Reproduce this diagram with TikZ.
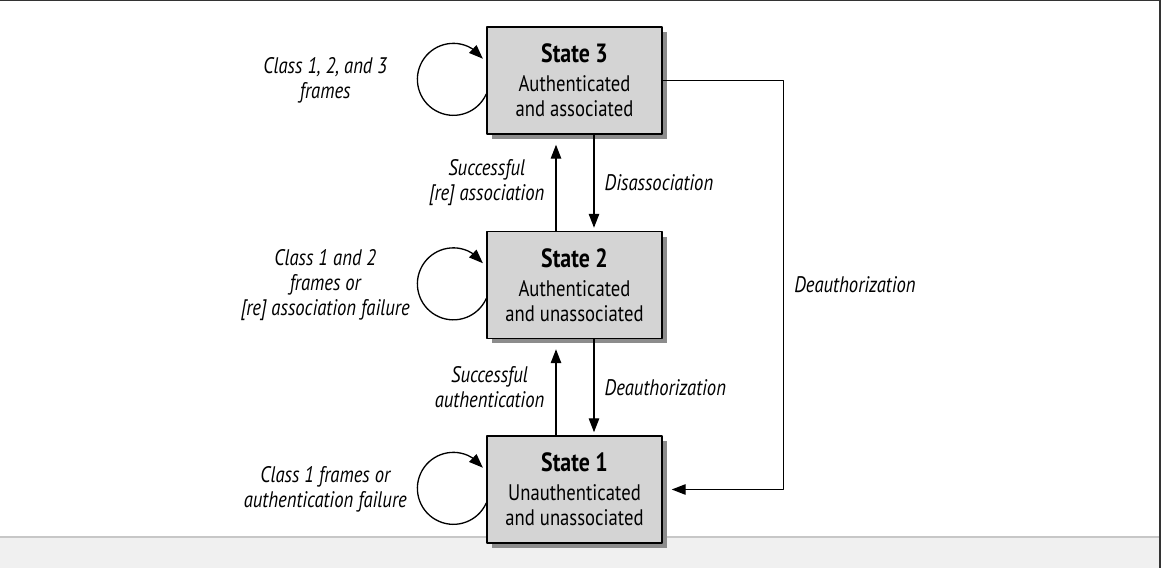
\documentclass[tikz,border=0pt]{standalone}
\usepackage{fontspec}
\setmainfont{PT Sans}[FakeStretch=0.83]
\usetikzlibrary{arrows.meta,bending,shadows}

\begin{document}
\begin{tikzpicture}[x=0.02cm,y=0.02cm,line join=round,>={Triangle[length=0.28cm,width=0.21cm]},
    state/.style={draw=black, line width=0.85pt, fill=black!17, minimum width=3.5cm, minimum height=2.14cm,
        align=center, font=\fontsize{12.8}{14.2}\selectfont,
        drop shadow={shadow xshift=0.1cm, shadow yshift=-0.1cm, fill=black!45, opacity=1}},
    trans/.style={->, line width=0.75pt},
    lbl/.style={font=\fontsize{12.8}{14.2}\selectfont\itshape, align=center, inner sep=0pt}]

    % Frame and footer band
    \useasboundingbox (0,0) rectangle (1161,568);
    \fill[black!6] (0,0) rectangle (1161,31);
    \draw[black!22, line width=0.6pt] (0,31) -- (1161,31);
    \draw[black!80, line width=1.1pt] (0,568) -- (1160,568) -- (1160,0);

    % States
    \node[state] (s3) at (574.5,487.5) {{\fontsize{15}{14.2}\bfseries State 3}\\[2.1pt]Authenticated\\and associated};
    \node[state] (s2) at (574.5,283) {{\fontsize{15}{14.2}\bfseries State 2}\\[2.1pt]Authenticated\\and unassociated};
    \node[state] (s1) at (574.5,78.5) {{\fontsize{15}{14.2}\bfseries State 1}\\[2.1pt]Unauthenticated\\and unassociated};

    % Self loops
    \draw[trans] ([yshift=-0.27cm]s3.west) arc[start angle=-24, end angle=-325, radius=0.72cm];
    \draw[trans] ([yshift=-0.27cm]s2.west) arc[start angle=-24, end angle=-325, radius=0.72cm];
    \draw[trans] ([yshift=-0.27cm]s1.west) arc[start angle=-24, end angle=-325, radius=0.72cm];

    % Loop labels
    \node[lbl] (c3) at ([xshift=-3.22cm]s3.west) {Class 1, 2, and 3\\frames};
    \node[lbl] (c2) at ([xshift=-3.22cm]s2.west) {Class 1 and 2\\frames or\\{}[re] association failure};
    \node[lbl] (c1) at ([xshift=-3.22cm]s1.west) {Class 1 frames or\\authentication failure};

    % Transitions between states
    \draw[trans, shorten >=0.2cm] ([xshift=-0.37cm]s2.north) -- node[lbl, left=0.22cm] {Successful\\{}[re] association} ([xshift=-0.37cm]s3.south);
    \draw[trans, shorten >=0.06cm] ([xshift=0.39cm]s3.south) -- node[lbl, right=0.2cm] {Disassociation} ([xshift=0.39cm]s2.north);
    \draw[trans, shorten >=0.2cm] ([xshift=-0.37cm]s1.north) -- node[lbl, left=0.22cm] {Successful\\authentication} ([xshift=-0.37cm]s2.south);
    \draw[trans, shorten >=0.06cm] ([xshift=0.39cm]s2.south) -- node[lbl, right=0.2cm] {Deauthorization} ([xshift=0.39cm]s1.north);

    % Deauthorization back to state 1
    \draw[trans, shorten >=0.18cm] (s3.east) -- ++(2.42cm,0) |- node[lbl, pos=0.25, right=0.2cm] {Deauthorization} (s1.east);

\end{tikzpicture}
\end{document}
